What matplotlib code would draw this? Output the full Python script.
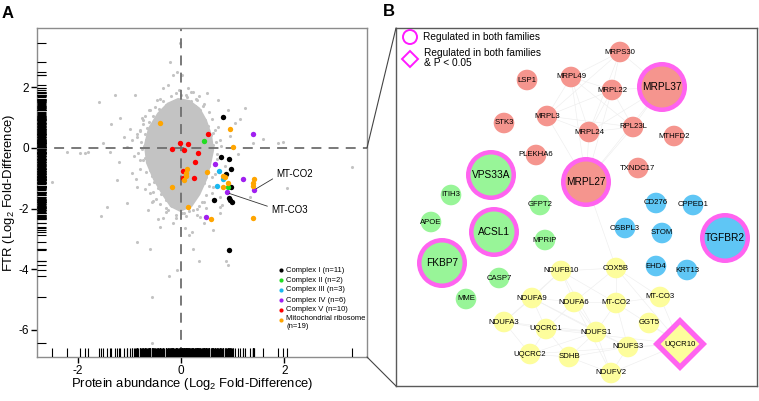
import matplotlib
matplotlib.use('Agg')
import matplotlib.pyplot as plt
from matplotlib.patches import Circle, Polygon, ConnectionPatch

plt.rcParams['font.family'] = ['Liberation Sans', 'DejaVu Sans']
plt.rcParams['mathtext.fontset'] = 'custom'
plt.rcParams['mathtext.rm'] = 'Liberation Sans'
plt.rcParams['mathtext.it'] = 'Liberation Sans:italic'
plt.rcParams['mathtext.bf'] = 'Liberation Sans:bold'

# ---------------- Panel A data ----------------
complex1_x = [0.82, 0.77, 0.93, 0.97, 0.87, 0.96, 0.63, 0.93, 0.94, 0.98, 0.93]
complex1_y = [1.03, -0.29, -0.37, -0.70, -0.86, -1.28, -1.72, -1.66, -1.73, -1.79, -3.38]
complex2_x = [0.44, 0.90]
complex2_y = [0.24, -1.30]
complex3_x = [0.74, 0.81, 0.69]
complex3_y = [-0.75, -1.02, -1.25]
complex4_x = [1.40, 0.66, 1.19, 1.41, 0.88, 0.48]
complex4_y = [0.46, -0.53, -1.02, -1.39, -1.47, -2.27]
complex5_x = [0.53, -0.02, 0.14, -0.18, 0.06, 0.32, 0.27, 0.03, 0.03, 0.25]
complex5_y = [0.46, 0.15, 0.12, -0.04, -0.07, -0.18, -0.45, -0.76, -1.00, -0.98]
ribo_x = [-0.41, 0.95, 1.01, 0.11, 0.10, 0.09, 0.06, 0.50, 0.82, 0.86, 0.90, 0.82,
          -0.18, 1.42, 1.40, 1.39, 0.14, 0.58, 1.39]
ribo_y = [0.84, 0.62, 0.02, -0.70, -0.81, -0.92, -1.06, -0.78, -0.92, -0.97, -1.14, -1.30,
          -1.30, -1.03, -1.14, -1.25, -1.94, -2.35, -2.32]

group_labels = ['Complex I (n=11)', 'Complex II (n=2)', 'Complex III (n=3)',
                'Complex IV (n=6)', 'Complex V (n=10)', 'Mitochondrial ribosome\n(n=19)']

# dense core of all other proteins (outline of the overplotted cloud)
core_outline_x = [-0.06, 0.17, 0.37, 0.50, 0.60, 0.64, 0.58, 0.50, 0.37, 0.21, -0.02,
                  -0.21, -0.37, -0.54, -0.68, -0.72, -0.64, -0.46, -0.27]
core_outline_y = [1.65, 1.58, 1.32, 0.92, 0.43, -0.07, -0.56, -1.06, -1.55, -1.95, -2.11,
                  -1.95, -1.55, -1.06, -0.50, 0.10, 0.66, 1.16, 1.49]

# other proteins (gray)
other_x = [
    -0.15, 0.05, 0.20, -0.30, -0.42, -0.08, 0.12, 0.33, 0.26, -0.55, -0.22, 0.02, 0.18, 0.41,
    -0.62, -0.35, -0.11, 0.08, 0.29, 0.47, -0.66, -0.45, -0.19, 0.01, 0.22, 0.52,
    -0.70, -0.51, -0.28, -0.04, 0.15, 0.38, 0.57, -0.68, -0.40, -0.13, 0.10, 0.33, 0.55,
    -0.71, -0.47, -0.24, 0.04, 0.26, 0.49, 0.61, -0.64, -0.36, -0.09, 0.18, 0.43, 0.59,
    -0.69, -0.52, -0.20, 0.07, 0.31, 0.54, -0.63, -0.41, -0.15, 0.12, 0.36, 0.55,
    -0.60, -0.33, -0.06, 0.21, 0.46, -0.57, -0.30, -0.01, 0.24, 0.48,
    -0.52, -0.25, 0.01, 0.28, 0.45, -0.45, -0.18, 0.09, 0.33, -0.38, -0.10, 0.16, 0.31,
    -0.29, -0.02, 0.22, -0.17, 0.06, 0.13,
    -0.78, -0.76, -0.80, -0.74, -0.70, -0.62, -0.74, -0.68, -0.62, -0.55, -0.48, -0.40, -0.83,
    -0.86, 0.68, 0.70, 0.66, 0.60, 0.55, 0.45, 0.65, 0.60, 0.55, 0.48, 0.40, 0.30,
    -0.35, -0.20, 0.00, 0.12, 0.28, -0.10, 0.20, -0.25, -0.10, 0.05, 0.15, 0.10, -0.30, 0.35,
    -0.85, -0.92, -0.80, 0.72, 0.70, 0.66, -0.50, 0.42, -0.75, 0.78, -0.98, -0.88, 0.60,
    -0.55, 0.45, -0.30, 0.30, -0.10, 0.10, -0.05, 0.35, -0.40, -1.10, -1.20, 0.85, 0.95,
    1.10, -1.35, 1.15, 0.90, -0.70, 0.75, -0.65, -0.45,
    -0.02, -0.21, -0.08, -0.15, 0.02, -0.35, -0.25, -1.59, -1.28, -0.89, -1.18, 0.50, 0.72,
    1.24, 1.04, 0.31, 0.37, 0.23, 0.14, -0.46, -0.60, -0.73, -0.79, -0.95, -1.05, -1.51,
    -1.37, -2.21, -1.95, -2.50, 1.97, 1.88, 3.31, 2.05, 1.01, 1.39, 0.62, 0.75, 1.20, 1.33,
    -1.24, -0.79, -0.85, -0.95, -0.60, 0.62, 0.75, 0.43, -1.43, -1.05, -0.56, -1.55, -0.85,
    -0.60, -0.56, -0.56, -0.23, -0.08, 0.35, 0.23, 0.15, 0.21, 0.08, 0.62, 0.87, 0.91, 0.45,
    -0.15, -0.35, -0.41, 0.37, 0.02, 0.23, 0.48, 0.75, 0.79, -1.86, -1.80, 1.59]
other_y = [
    1.52, 1.47, 1.55, 1.41, 1.28, 1.34, 1.31, 1.25, 1.38, 1.05, 1.12, 1.08, 1.15, 1.02,
    0.86, 0.93, 0.88, 0.95, 0.84, 0.91, 0.66, 0.72, 0.69, 0.75, 0.64, 0.71,
    0.47, 0.52, 0.44, 0.56, 0.49, 0.53, 0.42, 0.27, 0.33, 0.24, 0.31, 0.22, 0.35,
    0.06, 0.13, 0.04, 0.09, 0.15, 0.02, 0.11, -0.12, -0.07, -0.15, -0.10, -0.17, -0.05,
    -0.32, -0.26, -0.35, -0.28, -0.38, -0.24, -0.53, -0.47, -0.56, -0.44, -0.51, -0.58,
    -0.73, -0.67, -0.76, -0.65, -0.71, -0.92, -0.86, -0.95, -0.88, -0.97,
    -1.12, -1.06, -1.17, -1.09, -1.14, -1.33, -1.27, -1.36, -1.25, -1.53, -1.47, -1.56, -1.44,
    -1.72, -1.67, -1.75, -1.91, -1.86, -1.97,
    0.20, -0.05, 0.55, 0.80, 1.05, 1.25, -0.40, -0.80, -1.20, -1.45, -1.70, -1.85, -0.15,
    0.35, 0.20, -0.20, 0.60, 0.95, 1.20, 1.45, -0.55, -0.95, -1.25, -1.55, -1.80, -2.00,
    1.55, 1.70, 1.75, 1.68, 1.60, 1.82, 1.85, -2.05, -2.20, -2.15, -2.08, -2.25, -1.98, -1.90,
    0.45, -0.25, -0.70, 0.70, -0.35, -0.85, 1.35, 1.40, 1.00, 0.05, 0.62, -1.02, -1.50,
    -1.75, -1.80, -2.10, -2.20, -2.30, 1.75, 1.90, 1.70, 1.62, 0.35, -0.45, -0.60, 0.40,
    -0.20, 0.80, 0.95, 1.25, -1.35, -1.95, -2.05, -2.35,
    3.47, 2.84, 2.51, 2.41, 2.41, 1.98, 2.08, 1.52, 1.75, 1.75, 0.99, 1.82, 1.58,
    1.32, 0.83, 1.58, 1.25, 1.85, 1.98, 1.58, 1.25, 0.92, 0.59, 0.26, 0.03, 0.16,
    -0.13, -0.13, -0.17, -1.12, 0.20, 0.16, -0.63, -1.32, 0.03, 0.16, 0.49, 0.26, -1.06, -1.62,
    -1.06, -0.40, -1.29, -0.83, -1.49, -1.29, -1.62, -1.12, -1.95, -1.81, -1.78, -2.24, -3.10,
    -3.34, -4.92, -6.44, -4.22, -4.03, -3.73, -3.34, -2.87, -2.77, -2.64, -2.71, -3.73, -3.86, -2.47,
    -2.47, -2.31, -2.60, -2.28, -2.15, -2.05, -1.98, -2.15, -1.88, -0.15, -0.12, 0.30]

# ---------------- Panel B data ----------------
node_names = ['MRPS30', 'LSP1', 'MRPL49', 'MRPL22', 'MRPL37', 'STK3', 'MRPL3', 'MRPL24',
              'RPL23L', 'MTHFD2', 'PLEKHA6', 'TXNDC17', 'MRPL27',
              'VPS33A', 'ITIH3', 'GFPT2', 'APOE', 'ACSL1', 'MPRIP', 'FKBP7', 'CASP7', 'MME',
              'CD276', 'CPPED1', 'OSBPL3', 'STOM', 'TGFBR2', 'EHD4', 'KRT13',
              'NDUFB10', 'COX5B', 'NDUFA9', 'NDUFA6', 'MT-CO2', 'MT-CO3', 'NDUFA3', 'UQCRC1',
              'NDUFS1', 'GGT5', 'NDUFS3', 'UQCR10', 'UQCRC2', 'SDHB', 'NDUFV2']
node_module = ['red'] * 13 + ['green'] * 9 + ['blue'] * 7 + ['yellow'] * 15
node_status = {'MRPL37': 'both', 'MRPL27': 'both', 'VPS33A': 'both', 'ACSL1': 'both',
               'FKBP7': 'both', 'TGFBR2': 'both', 'UQCR10': 'both_p'}
edges = [('MRPS30', 'MRPL49'), ('MRPS30', 'MRPL22'), ('MRPS30', 'MRPL37'), ('MRPS30', 'MRPL24'),
         ('MRPS30', 'MRPL3'), ('MRPL49', 'MRPL22'), ('MRPL49', 'MRPL3'), ('MRPL49', 'MRPL24'),
         ('MRPL49', 'RPL23L'), ('MRPL22', 'MRPL3'), ('MRPL22', 'MRPL24'), ('MRPL22', 'RPL23L'),
         ('MRPL22', 'MRPL37'), ('MRPL37', 'RPL23L'), ('MRPL37', 'MRPL24'), ('MRPL3', 'MRPL24'),
         ('MRPL3', 'RPL23L'), ('MRPL24', 'RPL23L'), ('MRPL27', 'MRPL24'), ('MRPL27', 'MRPL3'),
         ('MRPL27', 'MRPL22'), ('MRPL27', 'RPL23L'), ('MRPL27', 'MRPL49'), ('MRPL27', 'MRPL37'),
         ('MRPL27', 'COX5B'),
         ('NDUFB10', 'COX5B'), ('NDUFB10', 'NDUFA9'), ('NDUFB10', 'NDUFA6'), ('NDUFB10', 'NDUFS1'),
         ('NDUFB10', 'NDUFA3'), ('NDUFB10', 'MT-CO2'), ('COX5B', 'MT-CO2'), ('COX5B', 'MT-CO3'),
         ('COX5B', 'NDUFA6'), ('COX5B', 'UQCR10'), ('NDUFA9', 'NDUFA6'), ('NDUFA9', 'NDUFA3'),
         ('NDUFA9', 'UQCRC1'), ('NDUFA9', 'NDUFS1'), ('NDUFA9', 'NDUFS3'), ('NDUFA6', 'MT-CO2'),
         ('NDUFA6', 'NDUFS1'), ('NDUFA6', 'UQCRC1'), ('NDUFA6', 'NDUFV2'), ('MT-CO2', 'MT-CO3'),
         ('MT-CO2', 'NDUFS1'), ('MT-CO2', 'UQCR10'), ('MT-CO2', 'NDUFS3'), ('MT-CO3', 'UQCR10'),
         ('NDUFA3', 'UQCRC1'), ('NDUFA3', 'UQCRC2'), ('NDUFA3', 'NDUFS1'), ('UQCRC1', 'UQCRC2'),
         ('UQCRC1', 'NDUFS1'), ('UQCRC1', 'SDHB'), ('UQCRC1', 'UQCR10'), ('NDUFS1', 'NDUFS3'),
         ('NDUFS1', 'NDUFV2'), ('NDUFS1', 'SDHB'), ('NDUFS1', 'UQCRC2'), ('NDUFS3', 'NDUFV2'),
         ('NDUFS3', 'UQCR10'), ('UQCRC2', 'SDHB'), ('UQCRC2', 'UQCR10'), ('SDHB', 'NDUFV2'),
         ('SDHB', 'NDUFS3'), ('NDUFV2', 'UQCR10'), ('GGT5', 'UQCR10')]

# ---------------- layout (pixel-like units of panel B) ----------------
layout = {'MRPS30': (620, 52), 'LSP1': (527, 80), 'MRPL49': (571, 77), 'MRPL22': (612, 90),
          'MRPL37': (662, 87), 'STK3': (504, 123), 'MRPL3': (547, 116), 'MRPL24': (589, 132),
          'RPL23L': (633, 127), 'MTHFD2': (674, 136), 'PLEKHA6': (536, 155), 'TXNDC17': (638, 168),
          'MRPL27': (586, 182), 'VPS33A': (491, 175), 'ITIH3': (451, 195), 'GFPT2': (540, 205),
          'APOE': (431, 222), 'ACSL1': (494, 232), 'MPRIP': (545, 240), 'FKBP7': (442, 263),
          'CASP7': (499, 278), 'MME': (466, 299), 'CD276': (656, 203), 'CPPED1': (693, 205),
          'OSBPL3': (625, 228), 'STOM': (662, 233), 'TGFBR2': (725, 238), 'EHD4': (656, 266),
          'KRT13': (687, 270), 'NDUFB10': (561, 271), 'COX5B': (616, 268), 'NDUFA9': (532, 298),
          'NDUFA6': (574, 302), 'MT-CO2': (616, 303), 'MT-CO3': (660, 297), 'NDUFA3': (504, 322),
          'UQCRC1': (546, 329), 'NDUFS1': (596, 332), 'GGT5': (649, 323), 'NDUFS3': (628, 347),
          'UQCR10': (680, 344), 'UQCRC2': (530, 354), 'SDHB': (569, 357), 'NDUFV2': (611, 373)}

module_colors = {'red': '#f5958e', 'green': '#98f598', 'blue': '#5fc6f5', 'yellow': '#fdfd9c'}
ring_color = '#ff63f0'
group_colors = ['#000000', '#22dd22', '#1ab8f0', '#a020f0', '#ff0000', '#ffa500']
gray = '#c3c3c3'

# ---------------- figure ----------------
W, H = 759, 401
fig = plt.figure(figsize=(W / 100, H / 100), dpi=100)

axA = fig.add_axes([37 / W, 1 - 357 / H, 330 / W, 329 / H])
axA.set_xlim(-2.79, 3.6)
axA.set_ylim(-6.9, 3.96)

axA.fill(core_outline_x, core_outline_y, color=gray, lw=0, zorder=1)
axA.scatter(other_x, other_y, s=5, color=gray, lw=0, zorder=1)

dash = (0, (5.5, 4.0))
axA.axhline(0, color='#6e6e6e', lw=1.3, ls=dash, zorder=2)
axA.axvline(0, color='#6e6e6e', lw=1.3, ls=dash, zorder=2)

all_x = other_x + complex1_x + complex2_x + complex3_x + complex4_x + complex5_x + ribo_x
all_y = other_y + complex1_y + complex2_y + complex3_y + complex4_y + complex5_y + ribo_y
axA.vlines(all_x, 0, 0.027, transform=axA.get_xaxis_transform(), color='black', lw=0.8, zorder=3)
axA.hlines(all_y, 0, 0.027, transform=axA.get_yaxis_transform(), color='black', lw=0.8, zorder=3)

groups = [(complex1_x, complex1_y), (complex2_x, complex2_y), (complex3_x, complex3_y),
          (complex4_x, complex4_y), (complex5_x, complex5_y), (ribo_x, ribo_y)]
for (gx, gy), c in zip(groups, group_colors):
    axA.scatter(gx, gy, s=15, color=c, lw=0, zorder=4)

axA.annotate('MT-CO2', xy=(complex4_x[3], complex4_y[3]), xytext=(1.85, -0.86),
             fontsize=7, va='center', ha='left',
             arrowprops=dict(arrowstyle='-', lw=0.6, color='#333333', shrinkA=1, shrinkB=2,
                             relpos=(0, 0.25)), zorder=5)
axA.annotate('MT-CO3', xy=(complex4_x[4], complex4_y[4]), xytext=(1.75, -2.05),
             fontsize=7, va='center', ha='left',
             arrowprops=dict(arrowstyle='-', lw=0.6, color='#333333', shrinkA=1, shrinkB=2,
                             relpos=(0, 0.75)), zorder=5)

# legend of panel A
leg_rows = [0.264, 0.234, 0.204, 0.173, 0.143, 0.112]
for yy, c, lab in zip(leg_rows, group_colors, group_labels):
    axA.scatter([0.739], [yy], s=9, color=c, lw=0, transform=axA.transAxes, zorder=5)
    two = '\n' in lab
    axA.text(0.755, yy + (0.016 if two else 0), lab, fontsize=5.5,
             va='top' if two else 'center', ha='left',
             transform=axA.transAxes, linespacing=1.3)

for s in axA.spines.values():
    s.set_color('#8c8c8c')
    s.set_linewidth(1.0)
axA.set_xticks([-2, 0, 2])
axA.set_yticks([2, 0, -2, -4, -6])
axA.set_xticklabels(['-2', '0', '2'])
axA.set_yticklabels(['2', '0', '-2', '-4', '-6'])
axA.tick_params(direction='out', length=4, width=1.0, color='black', labelsize=8.5, pad=2)
axA.set_xlabel('Protein abundance (Log$_2$ Fold-Difference)', fontsize=9.4)
axA.xaxis.set_label_coords((192 - 37) / 330, -(384 - 357) / 329)
axA.xaxis.label.set_va('center')
axA.set_ylabel('FTR (Log$_2$ Fold-Difference)', fontsize=9.4)
axA.yaxis.set_label_coords(-(37 - 9) / 330, 0.5)
axA.yaxis.label.set_va('center')

# ---------------- Panel B ----------------
axB = fig.add_axes([396 / W, 1 - 386 / H, (757 - 396) / W, (386 - 28) / H])
axB.set_xlim(396, 757)
axB.set_ylim(386, 28)
axB.set_xticks([])
axB.set_yticks([])
for s in axB.spines.values():
    s.set_color('#5a5a5a')
    s.set_linewidth(1.0)

for a, b in edges:
    (x1, y1), (x2, y2) = layout[a], layout[b]
    axB.plot([x1, x2], [y1, y2], color='#eeeeee', lw=0.45, zorder=1)

r_small, r_in, r_out = 10.3, 20.5, 25
for name, mod in zip(node_names, node_module):
    x, y = layout[name]
    col = module_colors[mod]
    st = node_status.get(name)
    if st == 'both':
        axB.add_patch(Circle((x, y), r_out, color=ring_color, lw=0, zorder=2))
        axB.add_patch(Circle((x, y), r_in, color=col, lw=0, zorder=3))
        axB.text(x, y, name, fontsize=7.3, ha='center', va='center', zorder=4)
    elif st == 'both_p':
        axB.add_patch(Polygon([(x - 27, y), (x, y - 27), (x + 27, y), (x, y + 27)],
                              closed=True, color=ring_color, lw=0, zorder=2))
        axB.add_patch(Polygon([(x - 19.5, y), (x, y - 19.5), (x + 19.5, y), (x, y + 19.5)],
                              closed=True, color=col, lw=0, zorder=3))
        axB.text(x, y, name, fontsize=5.6, ha='center', va='center', zorder=4)
    else:
        axB.add_patch(Circle((x, y), r_small, color=col, lw=0, zorder=2))
        axB.text(x, y, name, fontsize=5.6, ha='center', va='center', zorder=4)

# legend of panel B
axB.add_patch(Circle((410, 37), 7, fill=False, edgecolor='#ff1aff', lw=1.4, zorder=5))
axB.add_patch(Polygon([(402, 59), (410, 51), (418, 59), (410, 67)], closed=True, fill=False,
                      edgecolor='#ff1aff', lw=1.4, zorder=5))
axB.text(423, 37, 'Regulated in both families', fontsize=7.3, va='center', ha='left')
axB.text(424, 58, 'Regulated in both families\n& P < 0.05', fontsize=7.3, va='center',
         ha='left', linespacing=1.1)

# connector lines
fig.add_artist(ConnectionPatch(xyA=(3.6, 0), coordsA=axA.transData,
                               xyB=(396, 28), coordsB=axB.transData,
                               color='#444444', lw=0.8))
fig.add_artist(ConnectionPatch(xyA=(3.6, -6.9), coordsA=axA.transData,
                               xyB=(396, 386), coordsB=axB.transData,
                               color='#444444', lw=0.8))

fig.text(2 / W, 1 - 13 / H, 'A', fontsize=12, fontweight='bold', va='center', ha='left')
fig.text(383 / W, 1 - 12 / H, 'B', fontsize=12, fontweight='bold', va='center', ha='left')

fig.savefig('out.png', dpi=100)
